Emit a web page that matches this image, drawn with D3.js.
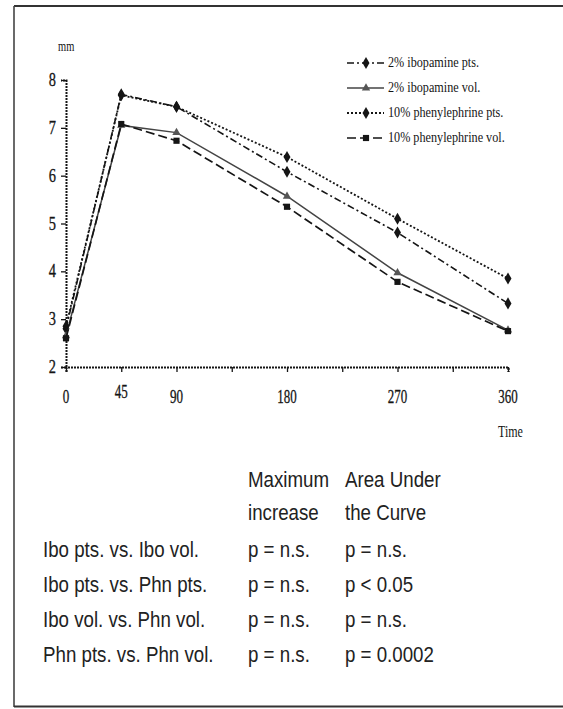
<!DOCTYPE html>
<html><head><meta charset="utf-8">
<script src="https://cdn.jsdelivr.net/npm/d3@7"></script>
<style>html,body{margin:0;padding:0;background:#fff;}</style>
</head><body>
<svg id="c" width="563" height="709"></svg>
<script>
// ---- data ----
const times = [0, 45, 90, 180, 270, 360];
const iboPts = [2.80, 7.70, 7.44, 6.08, 4.81, 3.33];
const iboVol = [2.65, 7.05, 6.90, 5.57, 3.97, 2.77];
const phnPts = [2.85, 7.68, 7.44, 6.39, 5.10, 3.85];
const phnVol = [2.60, 7.08, 6.73, 5.35, 3.78, 2.75];
const seriesNames = ["2% ibopamine pts.", "2% ibopamine vol.", "10% phenylephrine pts.", "10% phenylephrine vol."];
const xTickValues = [0, 45, 90, 135, 180, 225, 270, 315, 360];
const xTickLabels = [0, 45, 90, 180, 270, 360];
const yTickValues = [2, 3, 4, 5, 6, 7, 8];
const tableHeader1 = ["Maximum", "Area Under"];
const tableHeader2 = ["increase", "the Curve"];
const tableRows = ["Ibo pts. vs. Ibo vol.", "Ibo pts. vs. Phn pts.", "Ibo vol. vs. Phn vol.", "Phn pts. vs. Phn vol."];
const tableMax = ["p = n.s.", "p = n.s.", "p = n.s.", "p = n.s."];
const tableAUC = ["p = n.s.", "p < 0.05", "p = n.s.", "p = 0.0002"];

const svg = d3.select("#c");
const ink = "#151515";

function squeeze(sel, k) {
  sel.each(function () {
    const w = this.getComputedTextLength();
    d3.select(this).attr("textLength", (w * k).toFixed(1)).attr("lengthAdjust", "spacingAndGlyphs");
  });
}

// frame
svg.append("line").attr("x1", 14).attr("x2", 563).attr("y1", 6).attr("y2", 6).attr("stroke", "#333").attr("stroke-width", 2.2);
svg.append("line").attr("x1", 14).attr("x2", 14).attr("y1", 6).attr("y2", 707).attr("stroke", "#444").attr("stroke-width", 1.6);
svg.append("line").attr("x1", 14).attr("x2", 563).attr("y1", 706.5).attr("y2", 706.5).attr("stroke", "#333").attr("stroke-width", 2.2);

// scales
const x = d3.scaleLinear().domain([0, 360]).range([66, 508]);
const y = d3.scaleLinear().domain([2, 8]).range([367, 80]);

// axes
const xAxis = svg.append("g").attr("transform", "translate(0,367)")
  .call(d3.axisBottom(x).tickValues(xTickValues).tickSize(5).tickFormat(""));
xAxis.select(".domain").attr("stroke", ink).attr("stroke-width", 2.2).attr("stroke-dasharray", "2,1");
xAxis.selectAll(".tick line").attr("stroke", ink).attr("stroke-width", 1.3);

const yAxis = svg.append("g").attr("transform", "translate(66,0)")
  .call(d3.axisLeft(y).tickValues(yTickValues).tickSize(5).tickFormat(""));
yAxis.select(".domain").attr("stroke", ink).attr("stroke-width", 2).attr("stroke-dasharray", "2,1");
yAxis.selectAll(".tick line").attr("stroke", ink).attr("stroke-width", 1.3);

// tick labels
const serif = "'Liberation Serif', 'DejaVu Serif', serif";
const yl = svg.append("g").selectAll("text").data(yTickValues).join("text")
  .attr("x", 56).attr("y", d => y(d) + 6).attr("text-anchor", "end")
  .attr("font-family", serif).attr("font-size", 18).attr("fill", ink)
  .attr("stroke", ink).attr("stroke-width", 0.3).text(d => d);
squeeze(yl, 0.8);
const xl = svg.append("g").selectAll("text").data(xTickLabels).join("text")
  .attr("x", d => x(d)).attr("y", d => d === 45 ? 398 : 403).attr("text-anchor", "middle")
  .attr("font-family", serif).attr("font-size", 18).attr("fill", ink)
  .attr("stroke", ink).attr("stroke-width", 0.3).text(d => d);
squeeze(xl, 0.72);

const mm = svg.append("text").attr("x", 58).attr("y", 51).attr("font-family", serif).attr("font-size", 15).attr("fill", ink).text("mm");
squeeze(mm, 0.7);
const tm = svg.append("text").attr("x", 498).attr("y", 437).attr("font-family", serif).attr("font-size", 16).attr("fill", ink).text("Time");
squeeze(tm, 0.75);

// series
const series = [
  { name: seriesNames[0], vals: iboPts, dash: "7,3,2,3", color: ink, width: 1.6, marker: "diamond" },
  { name: seriesNames[1], vals: iboVol, dash: null, color: "#444", width: 1.5, marker: "triangle" },
  { name: seriesNames[2], vals: phnPts, dash: "2,2", color: ink, width: 1.8, marker: "diamond" },
  { name: seriesNames[3], vals: phnVol, dash: "9,4", color: ink, width: 1.7, marker: "square" }
];
const symType = { diamond: d3.symbolDiamond, triangle: d3.symbolTriangle, square: d3.symbolSquare };
const symSize = { diamond: 42, triangle: 30, square: 38 };

const line = d3.line().x(d => x(d[0])).y(d => y(d[1]));
series.forEach(s => {
  const pts = times.map((t, i) => [t, s.vals[i]]);
  svg.append("path").datum(pts).attr("d", line).attr("fill", "none")
    .attr("stroke", s.color).attr("stroke-width", s.width)
    .attr("stroke-dasharray", s.dash);
  svg.append("g").selectAll("path").data(pts).join("path")
    .attr("transform", d => `translate(${x(d[0])},${y(d[1])})`)
    .attr("d", d3.symbol().type(symType[s.marker]).size(symSize[s.marker]))
    .attr("fill", s.marker === "triangle" ? "#555" : ink);
});

// legend
const legY = [63, 88, 113, 138];
series.forEach((s, i) => {
  const g = svg.append("g").attr("transform", `translate(0,${legY[i]})`);
  g.append("line").attr("x1", 347).attr("x2", 384).attr("y1", 0).attr("y2", 0)
    .attr("stroke", s.color).attr("stroke-width", s.width).attr("stroke-dasharray", s.dash);
  g.append("path").attr("transform", "translate(366,0)")
    .attr("d", d3.symbol().type(symType[s.marker]).size(symSize[s.marker]))
    .attr("fill", s.marker === "triangle" ? "#555" : ink);
  const t = g.append("text").attr("x", 388).attr("y", 4).attr("font-family", serif)
    .attr("font-size", 14).attr("fill", ink).text(s.name);
  squeeze(t, 0.87);
});

// table
const sans = "'Liberation Sans', Arial, sans-serif";
const tcol = "#222";
const tk = 0.87;
function ttext(tx, ty, str) {
  const t = svg.append("text").attr("x", tx).attr("y", ty).attr("font-family", sans)
    .attr("font-size", 21.5).attr("fill", tcol).text(str);
  squeeze(t, tk);
}
const colX = [248, 345];
tableHeader1.forEach((h, i) => ttext(colX[i], 487, h));
tableHeader2.forEach((h, i) => ttext(colX[i], 520, h));
tableRows.forEach((r, i) => {
  const by = 557 + i * 35;
  ttext(43, by, r);
  ttext(colX[0], by, tableMax[i]);
  ttext(colX[1], by, tableAUC[i]);
});
</script>
</body></html>
